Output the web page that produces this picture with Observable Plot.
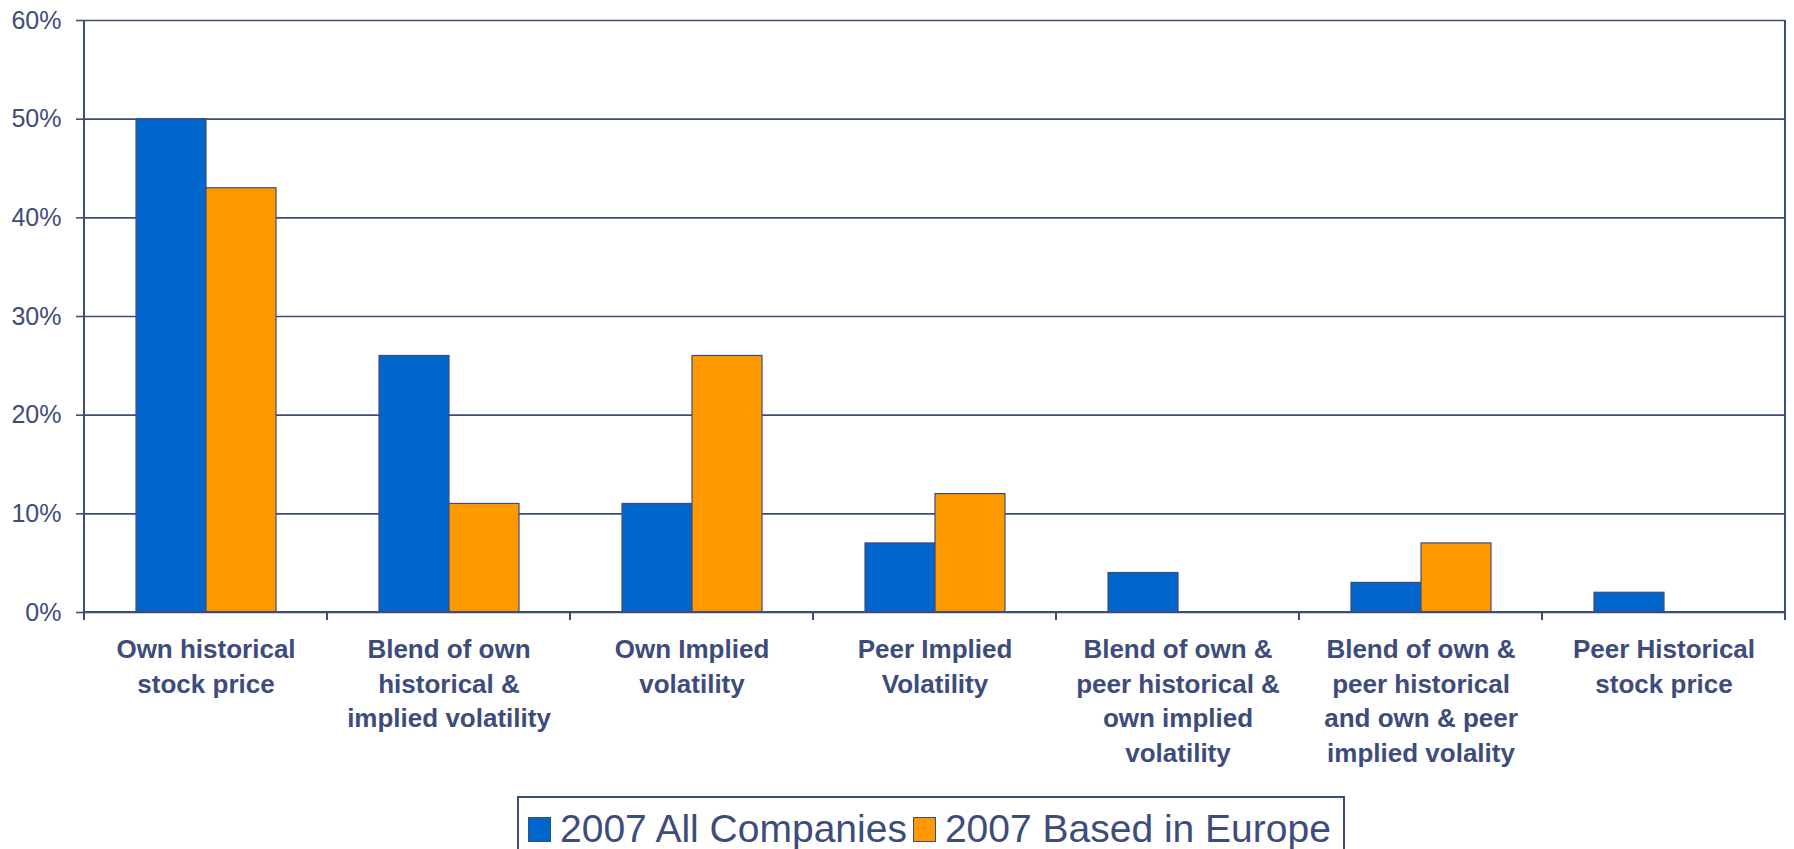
<!DOCTYPE html>
<html><head><meta charset="utf-8">
<script src="https://cdn.jsdelivr.net/npm/d3@7"></script>
<script src="https://cdn.jsdelivr.net/npm/@observablehq/plot@0.6"></script>
<style>
body{margin:0;background:#fff;font-family:"Liberation Sans",Arial,sans-serif;}
#wrap{position:relative;width:1794px;height:849px;overflow:hidden;background:#fff;}
#legend{position:absolute;left:517px;top:796px;width:828px;border:2px solid #3e4c7b;box-sizing:border-box;display:flex;align-items:center;height:66px;padding-left:9px;color:#3e4c7b;font-size:39px;}
#legend .sw{display:inline-block;width:23px;height:25px;box-sizing:border-box;border:1px solid #3e4c7b;margin-right:9px;}
#legend .lt{margin-right:6px;white-space:nowrap;}
</style></head>
<body><div id="wrap"><div id="chart"></div><div id="legend"></div></div>
<script>
const categories = ["Own historical stock price","Blend of own historical & implied volatility","Own Implied volatility","Peer Implied Volatility","Blend of own & peer historical & own implied volatility","Blend of own & peer historical and own & peer implied volality","Peer Historical stock price"];
const categoryLabels = ["Own historical\nstock price","Blend of own\nhistorical &\nimplied volatility","Own Implied\nvolatility","Peer Implied\nVolatility","Blend of own &\npeer historical &\nown implied\nvolatility","Blend of own &\npeer historical\nand own & peer\nimplied volality","Peer Historical\nstock price"];
const seriesNames = ["2007 All Companies","2007 Based in Europe"];
const allCompanies = [0.50,0.26,0.11,0.07,0.04,0.03,0.02];
const basedInEurope = [0.43,0.11,0.26,0.12,0,0.07,0];
const yTicks = [0,0.1,0.2,0.3,0.4,0.5,0.6];
const colors = ["#0066CC","#FF9900"];
const ink = "#3e4c7b";

const rows = [];
categories.forEach((c,i)=>{
  rows.push({category:c, series:seriesNames[0], value:allCompanies[i]});
  rows.push({category:c, series:seriesNames[1], value:basedInEurope[i]});
});
const labelOf = new Map(categories.map((c,i)=>[c,categoryLabels[i]]));

const chart = Plot.plot({
  width:1794, height:790,
  marginTop:20, marginLeft:81, marginRight:7, marginBottom:178,
  style:{fontFamily:'"Liberation Sans",Arial,sans-serif', color:ink, background:"white", overflow:"visible"},
  fx:{domain:categories, padding:0, axis:null},
  x:{domain:seriesNames, paddingInner:0, paddingOuter:0.73, axis:null},
  y:{domain:[0,0.6], axis:null},
  color:{domain:seriesNames, range:colors},
  marks:[
    Plot.gridY(yTicks,{stroke:ink, strokeOpacity:1, strokeWidth:1.6}),
    Plot.axisY(yTicks,{tickSize:8, tickPadding:15, fontSize:25, tickFormat:d=>Math.round(d*100)+"%", stroke:ink, strokeWidth:1.6, fill:ink, label:null}),
    Plot.barY(rows.filter(d=>d.value>0),{fx:"category", x:"series", y:"value", fill:"series", stroke:ink, strokeWidth:1.2}),
    Plot.text(categories,{fx:d=>d, text:d=>labelOf.get(d), frameAnchor:"bottom", lineAnchor:"top", dy:21, fontSize:26, fontWeight:"bold", lineHeight:1.33, fill:ink})
  ]
});

// frame sides and category boundary ticks from the library's scales
const fxS = chart.scale("fx"), yS = chart.scale("y");
const bw = fxS.bandwidth;
const edges = categories.map(c=>fxS.apply(c));
edges.push(fxS.apply(categories[categories.length-1]) + bw);
const y0 = yS.apply(0), yTop = yS.apply(0.6);
const svg = d3.select(chart);
const g = svg.append("g").attr("stroke", ink).attr("stroke-width", 2);
g.append("line").attr("x1",edges[0]).attr("x2",edges[0]).attr("y1",yTop).attr("y2",y0+8);
g.append("line").attr("x1",edges[edges.length-1]).attr("x2",edges[edges.length-1]).attr("y1",yTop).attr("y2",y0+8);
edges.slice(1,-1).forEach(x=>g.append("line").attr("x1",x).attr("x2",x).attr("y1",y0).attr("y2",y0+8));
g.append("line").attr("x1",edges[0]).attr("x2",edges[edges.length-1]).attr("y1",y0).attr("y2",y0);
document.getElementById("chart").appendChild(chart);

const legend = document.getElementById("legend");
seriesNames.forEach((s,i)=>{
  const sw = document.createElement("span"); sw.className="sw"; sw.style.background=colors[i];
  const t = document.createElement("span"); t.className="lt"; t.textContent=s;
  legend.appendChild(sw); legend.appendChild(t);
});
</script>
</body></html>
